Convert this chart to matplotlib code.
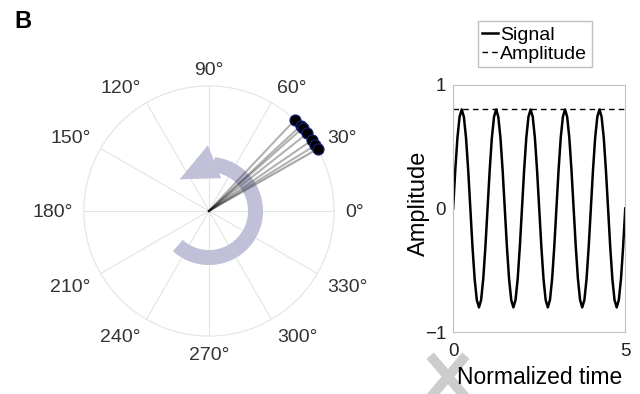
import numpy as np
import matplotlib.pyplot as plt
from matplotlib.lines import Line2D
from matplotlib.patches import Polygon

plt.rcParams['font.family'] = ['Liberation Sans', 'DejaVu Sans']

# phase angles (deg) of the vectors on the unit circle
phase_deg = [46.7, 42.9, 41.5, 38.3, 34.5, 31.7, 29.7]
phase_r = [1, 1, 1, 1, 1, 1, 1]

# one cycle of the signal, sampled every 1/16 cycle
cycle = [0, 0.31, 0.57, 0.74, 0.8, 0.74, 0.57, 0.31,
         0, -0.31, -0.57, -0.74, -0.8, -0.74, -0.57, -0.31]
n_cycles = 5
amplitude = 0.8
angle_ticks = [0, 30, 60, 90, 120, 150, 180, 210, 240, 270, 300, 330]

signal = cycle * n_cycles + [0]
t = np.linspace(0, n_cycles, len(signal))

fig = plt.figure(figsize=(6.4, 3.94), dpi=100)

# polar panel
ax = fig.add_axes([0.131, 0.147, 0.391, 0.635], projection='polar')
ax.set_ylim(0, 1)
ax.set_yticks([])
ax.set_xticks(np.deg2rad(angle_ticks))
ax.set_xticklabels([])
ax.grid(color='#e4e4e4', linewidth=0.8)
ax.spines['polar'].set_color('#e4e4e4')

# angle labels anchored just outside the circle, aligned by quadrant
for a in angle_ticks:
    c, s = np.cos(np.deg2rad(a)), np.sin(np.deg2rad(a))
    ha = 'left' if c > 0.01 else ('right' if c < -0.01 else 'center')
    va = 'baseline' if s > 0.01 else ('top' if s < -0.01 else 'center_baseline')
    ax.text(np.deg2rad(a), 1.09, f'{a}°', ha=ha, va=va, fontsize=14, color='#333333')

# circular arrow
arrow_col = '#c0c0d9'
arc = np.deg2rad(np.linspace(228, 444, 120))
ax.plot(arc, np.full_like(arc, 0.372), color=arrow_col,
        linewidth=10.8, solid_capstyle='butt', zorder=2)
head = [(np.deg2rad(91), 0.525), (np.deg2rad(69.6), 0.28), (np.deg2rad(132.8), 0.345)]
ax.add_patch(Polygon(head, closed=True, transform=ax.transData,
                     facecolor=arrow_col, edgecolor='none', zorder=2))

for a, r in zip(phase_deg, phase_r):
    ax.plot([0, np.deg2rad(a)], [0, r], color='black', alpha=0.3, linewidth=1.5, zorder=3)
ax.plot(np.deg2rad(phase_deg), phase_r, 'o', markersize=8, markerfacecolor='black',
        markeredgecolor='#1a237e', markeredgewidth=0.8, linestyle='none', zorder=4,
        clip_on=False)

# time series panel
ax2 = fig.add_axes([0.708, 0.157, 0.269, 0.628])
ax2.plot(t, signal, color='black', linewidth=1.8, label='Signal')
ax2.plot([0, n_cycles], [amplitude, amplitude], color='black', linewidth=1,
         linestyle=(0, (4, 3)), label='Amplitude')
ax2.set_xlim(0, 5)
ax2.set_ylim(-1, 1)
ax2.set_xticks([0, 5])
ax2.set_yticks([-1, 0, 1])
ax2.tick_params(length=0, labelsize=13.5, colors='#222222')
ax2.tick_params(axis='x', pad=8)
ax2.tick_params(axis='y', pad=5)
for sp in ax2.spines.values():
    sp.set_color('#c0c0c0')
ax2.set_xlabel('Normalized time', fontsize=16.5, labelpad=4)
ax2.set_ylabel('Amplitude', fontsize=17)
ax2.yaxis.set_label_coords(-0.135, 0.52)
ax2.legend(loc='lower center', bbox_to_anchor=(0.474, 1.07), fontsize=14,
           handlelength=0.8, handletextpad=0.1, borderpad=0.25, labelspacing=0.05,
           fancybox=False, edgecolor='#c0c0c0', framealpha=1, borderaxespad=0)

# faint cross mark under the time axis
fig.add_artist(Line2D([0.677, 0.723], [0.088, 0.0], color='#cccccc', linewidth=7, zorder=0))
fig.add_artist(Line2D([0.677, 0.723], [0.0, 0.088], color='#cccccc', linewidth=7, zorder=0))

fig.text(0.022, 0.93, 'B', fontsize=17, fontweight='bold')

fig.savefig('out.png', dpi=100)
